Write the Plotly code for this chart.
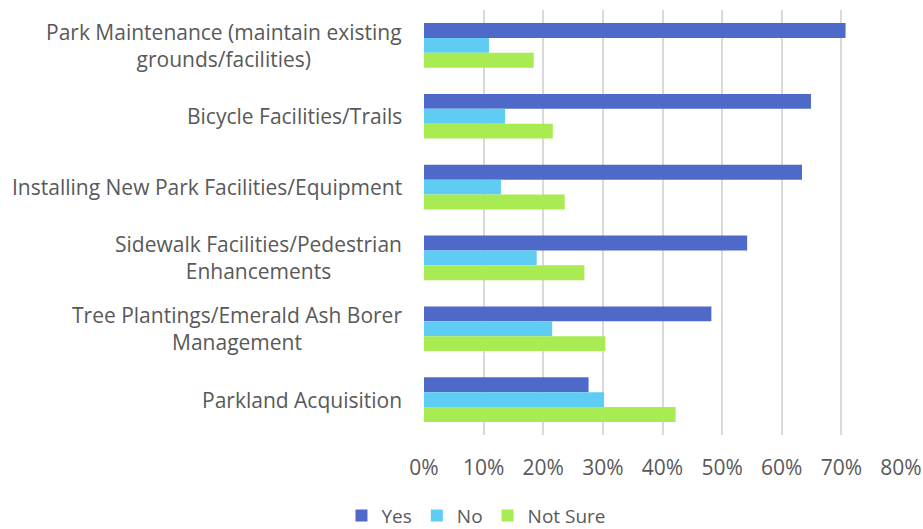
import plotly.graph_objects as go

categories = [
    "Park Maintenance (maintain existing<br>grounds/facilities)",
    "Bicycle Facilities/Trails",
    "Installing New Park Facilities/Equipment",
    "Sidewalk Facilities/Pedestrian<br>Enhancements",
    "Tree Plantings/Emerald Ash Borer<br>Management",
    "Parkland Acquisition",
]
yes_vals = [0.707, 0.649, 0.634, 0.542, 0.482, 0.276]
no_vals = [0.109, 0.136, 0.129, 0.189, 0.215, 0.302]
not_sure_vals = [0.184, 0.216, 0.236, 0.269, 0.304, 0.422]
tick_vals = [0, 0.1, 0.2, 0.3, 0.4, 0.5, 0.6, 0.7, 0.8]

FONT = "Open Sans"
GREY = "#595959"
SIZE = 21

fig = go.Figure()
for name, vals, color in [
    ("Yes", yes_vals, "#4F69C9"),
    ("No", no_vals, "#5ECCF3"),
    ("Not Sure", not_sure_vals, "#A9EB52"),
]:
    fig.add_trace(go.Bar(
        y=categories, x=vals, name=name, orientation="h",
        marker=dict(color=color, line=dict(width=0)),
    ))

# category labels as annotations so wrapped lines stay centred
for cat in categories:
    fig.add_annotation(
        x=0, xref="paper", y=cat, yref="y", text=cat,
        xanchor="right", xshift=-20, align="center", showarrow=False,
        font=dict(family=FONT, size=SIZE, color=GREY),
    )

fig.update_layout(
    width=923, height=529,
    margin=dict(l=424, r=22, t=10, b=94, autoexpand=False),
    paper_bgcolor="white", plot_bgcolor="white",
    barmode="group", bargap=0.37, bargroupgap=0,
    font=dict(family=FONT, size=SIZE, color=GREY),
    legend=dict(
        orientation="h", x=0.11, xanchor="center", y=-0.19, yanchor="middle",
        font=dict(size=19, color=GREY), traceorder="normal",
        itemwidth=30, tracegroupgap=0,
    ),
)
fig.update_xaxes(
    range=[0, 0.8], tickvals=tick_vals, tickformat=".0%",
    showgrid=True, gridcolor="#d9d9d9", gridwidth=1.5,
    zeroline=False, showline=False, ticklabelstandoff=18, automargin=False,
)
fig.update_yaxes(autorange="reversed", showticklabels=False, showgrid=False,
                 automargin=False)

fig.write_html("out.html", config={"displayModeBar": False},
               post_script="document.body.style.margin='0';")
